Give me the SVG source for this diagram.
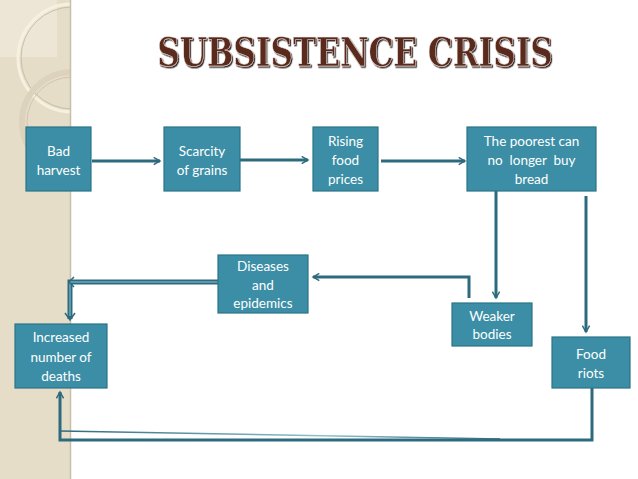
<svg xmlns="http://www.w3.org/2000/svg" width="638" height="479" viewBox="0 0 638 479">
<defs>
<style>
.box{fill:#3b8ea5;stroke:#2b7489;stroke-width:1.2}
.lbl{fill:#ffffff;font-family:Lato,"Open Sans","Liberation Sans",sans-serif;font-size:13.5px;text-anchor:middle}
.con{fill:none;stroke:#2d6a7d;stroke-width:3;stroke-linejoin:miter}
</style>
<marker id="arr" viewBox="0 0 10 10" refX="8" refY="5" markerWidth="3" markerHeight="3" orient="auto" markerUnits="strokeWidth">
<path d="M1,1 L8,5 L1,9" fill="none" stroke="#2d6a7d" stroke-width="1.6"/>
</marker>
<linearGradient id="thin" x1="0" y1="0" x2="1" y2="0">
<stop offset="0" stop-color="#2d6a7d"/>
<stop offset="0.6" stop-color="#8fc0cf"/>
<stop offset="1" stop-color="#2d6a7d"/>
</linearGradient>
<clipPath id="band"><rect x="0" y="0" width="70" height="479"/></clipPath>
<filter id="shadow" x="-5%" y="-20%" width="110%" height="150%">
<feDropShadow dx="1.5" dy="1.5" stdDeviation="0.4" flood-color="#1e0e09" flood-opacity="0.9"/>
</filter>
</defs>
<rect width="638" height="479" fill="#ffffff"/>
<g id="background">
<rect x="0" y="0" width="70" height="479" fill="#e6ddc9"/>
<g clip-path="url(#band)">
<rect x="0" y="0" width="57" height="57" fill="#ede6d6"/>
<circle cx="72" cy="58" r="54" fill="none" stroke="#f6f0de" stroke-width="3"/>
<circle cx="72" cy="58" r="51" fill="none" stroke="#c9bea8" stroke-width="1"/>
<circle cx="72" cy="122" r="50" fill="none" stroke="#ddd2bb" stroke-width="6"/>
<circle cx="72" cy="122" r="45" fill="none" stroke="#c9bea8" stroke-width="0.8"/>
</g>
<line x1="70.5" y1="0" x2="70.5" y2="479" stroke="#c8bea9" stroke-width="1.5"/>
</g>
<g id="title" transform="translate(355,66) scale(0.78,1)">
<text x="0" y="0" font-family="'DejaVu Serif','Liberation Serif',serif" font-weight="bold" font-size="40" text-anchor="middle" fill="#5a2a1e" stroke="#f4ebe6" stroke-width="0.5" filter="url(#shadow)">SUBSISTENCE CRISIS</text>
</g>
<g id="connectors">
<line class="con" x1="92" y1="161" x2="160" y2="161" marker-end="url(#arr)"/>
<line class="con" x1="240" y1="160" x2="308" y2="160" marker-end="url(#arr)"/>
<line class="con" x1="381" y1="161" x2="465" y2="161" marker-end="url(#arr)"/>
<line class="con" x1="496" y1="191" x2="496" y2="298" marker-end="url(#arr)"/>
<polyline class="con" points="469,298 469,277 313,277" marker-end="url(#arr)"/>
<polyline points="223,282 70,282 70,319" fill="none" stroke="#2d6a7d" stroke-width="5"/>
<polyline points="223,282 70,282 70,316" fill="none" stroke="#6fa8ba" stroke-width="1.5"/>
<path d="M74,277 L69,282 L74,287 M65,313 L70,320 L75,313" fill="none" stroke="#2d6a7d" stroke-width="1.5"/>
<line class="con" x1="586" y1="196" x2="586" y2="332" marker-end="url(#arr)"/>
<polyline class="con" points="592,388 592,440 60,440 60,392" marker-end="url(#arr)"/>
<line x1="60" y1="431" x2="500" y2="439" stroke="url(#thin)" stroke-width="1.5"/>
</g>
<g id="bad-harvest">
<rect class="box" x="26" y="127" width="65" height="64"/>
<text class="lbl" x="58.5" y="156">Bad</text>
<text class="lbl" x="58.5" y="175">harvest</text>
</g>
<g id="scarcity">
<rect class="box" x="164" y="127" width="76" height="64"/>
<text class="lbl" x="202" y="156">Scarcity</text>
<text class="lbl" x="202" y="175">of grains</text>
</g>
<g id="rising">
<rect class="box" x="313" y="127" width="65" height="64"/>
<text class="lbl" x="345.5" y="146">Rising</text>
<text class="lbl" x="345.5" y="165">food</text>
<text class="lbl" x="345.5" y="184">prices</text>
</g>
<g id="poorest">
<rect class="box" x="467" y="127" width="129" height="64"/>
<text class="lbl" x="531.5" y="146">The poorest can</text>
<text class="lbl" x="531.5" y="165" xml:space="preserve">no  longer  buy</text>
<text class="lbl" x="531.5" y="184">bread</text>
</g>
<g id="diseases">
<rect class="box" x="218" y="255" width="90" height="58"/>
<text class="lbl" x="263" y="271">Diseases</text>
<text class="lbl" x="263" y="290">and</text>
<text class="lbl" x="263" y="308">epidemics</text>
</g>
<g id="weaker">
<rect class="box" x="452" y="303" width="80" height="43"/>
<text class="lbl" x="492" y="321">Weaker</text>
<text class="lbl" x="492" y="339">bodies</text>
</g>
<g id="deaths">
<rect class="box" x="15" y="324" width="92" height="64"/>
<text class="lbl" x="61" y="342">Increased</text>
<text class="lbl" x="61" y="362">number of</text>
<text class="lbl" x="61" y="381">deaths</text>
</g>
<g id="food-riots">
<rect class="box" x="552" y="337" width="78" height="51"/>
<text class="lbl" x="591" y="359">Food</text>
<text class="lbl" x="591" y="378">riots</text>
</g>
</svg>
